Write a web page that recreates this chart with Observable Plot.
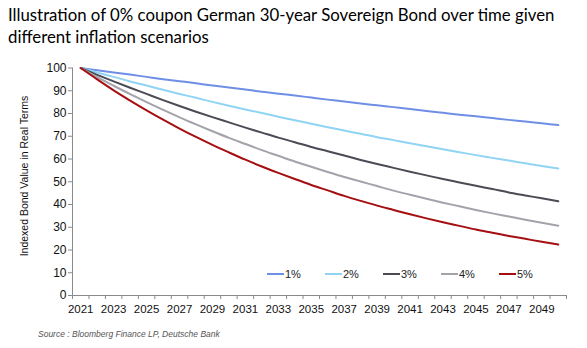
<!DOCTYPE html>
<html>
<head>
<meta charset="utf-8">
<script src="https://cdn.jsdelivr.net/npm/d3@7"></script>
<script src="https://cdn.jsdelivr.net/npm/@observablehq/plot@0.6"></script>
<style>
  html, body { margin: 0; padding: 0; background: #fff; }
  #wrap { position: relative; width: 587px; height: 348px; overflow: hidden; }
  #title { position: absolute; left: 8px; top: 4px; font-family: Lato, sans-serif; font-size: 16.8px; line-height: 22px; color: #000; white-space: nowrap; }
  #chart { position: absolute; left: 0; top: 50px; }
  #ylab { position: absolute; left: 24px; top: 176px; transform: translate(-50%, -50%) rotate(-90deg); font-family: "Liberation Sans", Arial, sans-serif; font-size: 10.5px; color: #111; white-space: nowrap; }
  #legend { position: absolute; top: 266px; left: 0; font-family: "Liberation Sans", Arial, sans-serif; font-size: 11px; color: #222; }
  .item { position: absolute; display: flex; align-items: center; white-space: nowrap; height: 16px; }
  .sw { width: 17px; height: 2px; margin-right: 1px; }
  #source { position: absolute; left: 38px; top: 329px; font-family: "Liberation Sans", Arial, sans-serif; font-style: italic; font-size: 8.5px; color: #555; white-space: nowrap; }
</style>
</head>
<body>
<div id="wrap">
  <div id="title">Illustration of 0% coupon German 30-year Sovereign Bond over time given<br>different inflation scenarios</div>
  <div id="chart"></div>
  <div id="ylab">Indexed Bond Value in Real Terms</div>
  <div id="legend"></div>
  <div id="source">Source : Bloomberg Finance LP, Deutsche Bank</div>
</div>
<script>
const years = d3.range(2021, 2051);
const seriesNames = ["1%", "2%", "3%", "4%", "5%"];
const seriesColors = ["#6f8fe6", "#90d4f4", "#4b4b55", "#a3a3ab", "#a50f12"];
const s1 = [100, 99.0, 98.0, 97.1, 96.1, 95.1, 94.2, 93.3, 92.3, 91.4, 90.5, 89.6, 88.7, 87.9, 87.0, 86.1, 85.3, 84.4, 83.6, 82.8, 82.0, 81.1, 80.3, 79.5, 78.8, 78.0, 77.2, 76.5, 75.7, 74.9];
const s2 = [100, 98.0, 96.1, 94.1, 92.3, 90.4, 88.6, 86.9, 85.1, 83.4, 81.8, 80.2, 78.6, 77.0, 75.5, 74.0, 72.5, 71.1, 69.6, 68.3, 66.9, 65.6, 64.3, 63.0, 61.7, 60.5, 59.3, 58.1, 56.9, 55.8];
const s3 = [100, 97.0, 94.1, 91.3, 88.6, 85.9, 83.3, 80.8, 78.4, 76.1, 73.8, 71.6, 69.4, 67.4, 65.3, 63.4, 61.5, 59.6, 57.8, 56.1, 54.4, 52.8, 51.2, 49.7, 48.2, 46.8, 45.3, 44.0, 42.7, 41.4];
const s4 = [100, 96.0, 92.2, 88.5, 85.0, 81.6, 78.3, 75.2, 72.2, 69.3, 66.6, 63.9, 61.4, 58.9, 56.6, 54.3, 52.1, 50.1, 48.1, 46.1, 44.3, 42.5, 40.8, 39.2, 37.6, 36.1, 34.7, 33.3, 32.0, 30.7];
const s5 = [100, 95.0, 90.2, 85.7, 81.4, 77.3, 73.4, 69.7, 66.2, 62.9, 59.7, 56.7, 53.9, 51.2, 48.6, 46.2, 43.8, 41.6, 39.5, 37.6, 35.7, 33.9, 32.2, 30.6, 29.0, 27.6, 26.2, 24.9, 23.6, 22.4];
const yTicks = [0, 10, 20, 30, 40, 50, 60, 70, 80, 90, 100];
const xLabels = [2021, 2023, 2025, 2027, 2029, 2031, 2033, 2035, 2037, 2039, 2041, 2043, 2045, 2047, 2049];

const allSeries = [s1, s2, s3, s4, s5];
const rows = [];
allSeries.forEach((vals, i) => vals.forEach((v, j) => rows.push({year: years[j], value: v, series: seriesNames[i]})));
const xMin = years[0] - 0.5, xMax = years[years.length - 1] + 0.5;
const boundaries = years.map(y => y - 0.5).concat([xMax]);
const axisColor = "#8a8a8a";

const plot = Plot.plot({
  width: 587,
  height: 270,
  marginLeft: 72,
  marginRight: 21,
  marginTop: 17.5,
  marginBottom: 25,
  style: {fontFamily: "'Liberation Sans', Arial, sans-serif", fontSize: "11.5px", color: "#111", background: "transparent"},
  x: {domain: [xMin, xMax]},
  y: {domain: [0, 100]},
  color: {domain: seriesNames, range: seriesColors},
  marks: [
    Plot.ruleX([xMin], {stroke: axisColor}),
    Plot.ruleY([0], {stroke: axisColor}),
    Plot.axisY({ticks: yTicks, tickSize: 4, tickPadding: 2, stroke: axisColor, label: null, fontSize: 12}),
    Plot.axisX({ticks: boundaries, tickSize: 4, tickFormat: () => "", stroke: axisColor, label: null}),
    Plot.axisX({ticks: xLabels, tickSize: 0, tickPadding: 9, tickFormat: d => String(d), label: null}),
    Plot.line(rows, {x: "year", y: "value", z: "series", stroke: "series", strokeWidth: 2, curve: "monotone-x"})
  ]
});
document.getElementById("chart").appendChild(plot);

const legendLeft = [267, 325, 383, 441, 499];
const lg = document.getElementById("legend");
seriesNames.forEach((n, i) => {
  const it = document.createElement("div");
  it.className = "item";
  it.style.left = legendLeft[i] + "px";
  it.innerHTML = `<span class="sw" style="background:${seriesColors[i]}"></span><span>${n}</span>`;
  lg.appendChild(it);
});
</script>
</body>
</html>
